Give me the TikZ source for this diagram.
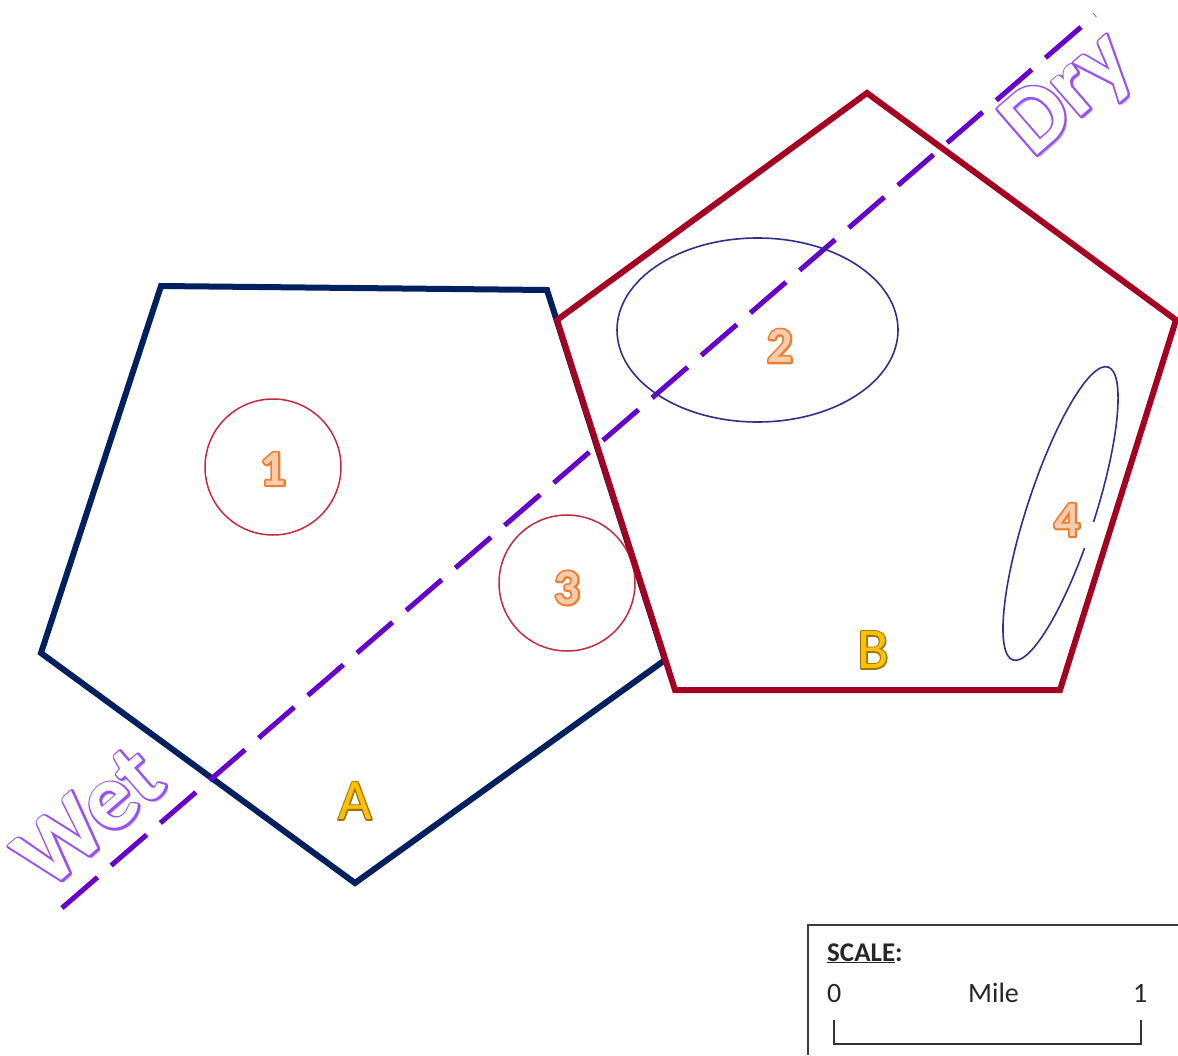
\documentclass[tikz,border=0pt]{standalone}
\usepackage{fontspec}
\setmainfont{Carlito}
\definecolor{navyA}{RGB}{0,32,96}
\definecolor{redB}{RGB}{165,0,33}
\definecolor{dashpurple}{RGB}{102,0,204}
\definecolor{ellblue}{RGB}{48,48,140}
\definecolor{circred}{RGB}{200,40,60}
\definecolor{numfill}{RGB}{248,203,173}
\definecolor{goldfill}{RGB}{255,192,0}
\definecolor{boxgrey}{RGB}{60,60,60}
% outline drawn outside the glyphs: stroke-only pass underneath, normal fill on top
% #1 stroke colour as "r g b" (0..1), #2 stroke width, #3 text
\newcommand\haloed[3]{\rlap{\special{pdf:literal direct #1 RG #2 w 1 j 1 Tr}#3\special{pdf:literal direct 0 Tr}}#3}
\begin{document}
\begin{tikzpicture}[x=1pt,y=-1pt,
  pentA/.style={draw=navyA, line width=6pt, line join=miter},
  pentB/.style={draw=redB, line width=6pt, line join=miter},
  circ/.style={draw=circred, line width=1.5pt},
  ell/.style={draw=ellblue, line width=1.6pt},
  divide/.style={draw=dashpurple, line width=5pt, dash pattern=on 47pt off 18pt},
  bigword/.style={inner sep=0pt, rotate=41, font=\bfseries\fontsize{94}{94}\selectfont},
  numlab/.style={inner sep=0pt, text=numfill, font=\bfseries\fontsize{50}{50}\selectfont},
  letlab/.style={inner sep=0pt, text=goldfill, font=\fontsize{58}{58}\selectfont},
  scaletext/.style={inner sep=0pt, anchor=base west, font=\fontsize{28}{28}\selectfont, text=black!85}
]
\useasboundingbox (0,0) rectangle (1178,1055);
% pentagon A
\coordinate (a1) at (161,286);
\coordinate (a2) at (547,290);
\coordinate (a3) at (665,660);
\coordinate (a4) at (355,883);
\coordinate (a5) at (41,653);
\draw[pentA] (a1) -- (a2) -- (a3) -- (a4) -- (a5) -- cycle;
% circles
\node[circ, circle, minimum size=136pt, inner sep=0pt] (c1) at (273,467) {};
\node[circ, circle, minimum size=136pt, inner sep=0pt] (c3) at (567,583) {};
% dashed divide line
\coordinate (wetend) at (62,908);
\coordinate (dryend) at (1095,15);
\draw[divide] (wetend) -- (dryend);
% pentagon B
\coordinate (b1) at (867,93);
\coordinate (b2) at (1176,320);
\coordinate (b3) at (1060,690);
\coordinate (b4) at (675,690);
\coordinate (b5) at (557,320);
\draw[pentB] (b1) -- (b2) -- (b3) -- (b4) -- (b5) -- cycle;
% ellipses
\coordinate (e2) at (757.5,330);
\draw[ell] (e2) ellipse [x radius=140.5pt, y radius=92pt];
\coordinate (e4) at (1060.5,513.5);
\draw[ell, rotate around={72:(e4)}] (e4) ellipse [x radius=154pt, y radius=34pt];
\fill[white] (1082,522) rectangle (1097,548);
% labels
\node[numlab] (n1) at (273,469) {\haloed{0.93 0.49 0.19}{4}{1}};
\node[numlab] (n2) at (780,346) {\haloed{0.93 0.49 0.19}{4}{2}};
\node[numlab] (n3) at (567,588) {\haloed{0.93 0.49 0.19}{4}{3}};
\node[numlab] (n4) at (1067,520) {\haloed{0.93 0.49 0.19}{4}{4}};
\node[letlab] (la) at (355,801) {\haloed{0.62 0.45 0}{2.6}{A}};
\node[letlab] (lb) at (873,650) {\haloed{0.62 0.45 0}{2.6}{B}};
% Wet / Dry (soft shadow, then outlined word)
\node[bigword, text=black!20] (wetshadow) at (92,820) {Wet};
\node[bigword, text=black!20] (dryshadow) at (1073,99) {Dry};
\node[bigword, text=white] (wet) at (89,817) {\haloed{0.6 0.32 0.94}{4}{Wet}};
\node[bigword, text=white] (dry) at (1070,96) {\haloed{0.6 0.32 0.94}{4}{Dry}};
% scale box
\coordinate (s1) at (808,1055);
\coordinate (s2) at (808,925);
\coordinate (s3) at (1178,925);
\draw[boxgrey, line width=1.8pt] (s1) -- (s2) -- (s3);
\node[scaletext, font=\bfseries\fontsize{27}{27}\selectfont] (scl) at (827,961) {\underline{SCALE}:};
\node[scaletext] (z0) at (827,1002) {0};
\node[scaletext] (mile) at (968,1002) {Mile};
\node[scaletext] (one) at (1133,1002) {1};
\coordinate (t1) at (834,1020);
\coordinate (t2) at (834,1044);
\coordinate (t3) at (1141,1044);
\coordinate (t4) at (1141,1020);
\draw[black!80, line width=1.6pt] (t1) -- (t2) -- (t3) -- (t4);
\end{tikzpicture}
\end{document}
